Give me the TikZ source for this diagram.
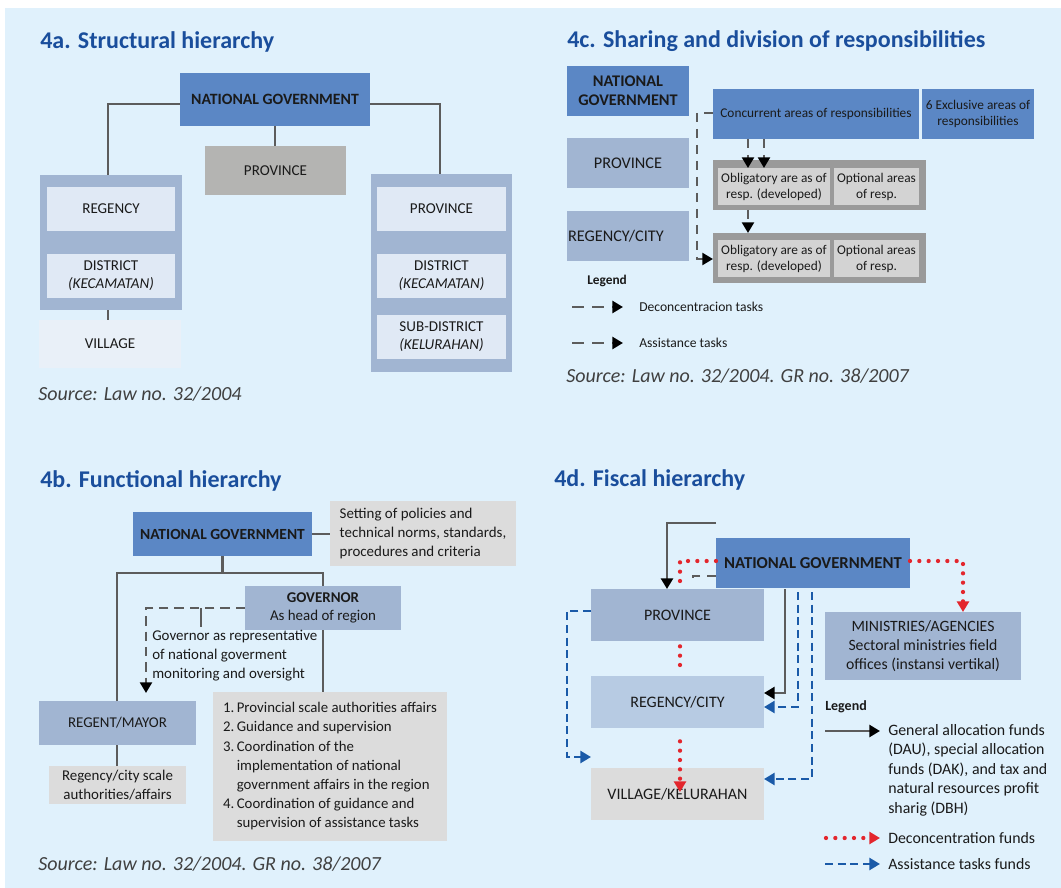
\documentclass[tikz,border=0pt]{standalone}
\usepackage{fontspec}
\setmainfont{Carlito}
\usetikzlibrary{arrows.meta}
\definecolor{bgc}{HTML}{E0F1FC}
\definecolor{tblue}{HTML}{1A4E9C}
\definecolor{dbl}{HTML}{5B87C5}
\definecolor{mbl}{HTML}{A1B5D2}
\definecolor{lblu}{HTML}{E0E9F5}
\definecolor{rbl}{HTML}{B7CBE3}
\definecolor{gprov}{HTML}{B4B4B2}
\definecolor{gdark}{HTML}{9A9A9A}
\definecolor{gmid}{HTML}{D3D3D3}
\definecolor{glt}{HTML}{DCDCDC}
\definecolor{lng}{HTML}{5C5C5C}
\definecolor{bdsh}{HTML}{1A5AA8}
\definecolor{rdt}{HTML}{E3262D}
\definecolor{txt}{HTML}{1A1A1A}
\newcommand\fsz[2]{\fontsize{#1}{#2}\selectfont}
\begin{document}
\begin{tikzpicture}[x=0.75pt,y=-0.75pt,
 box/.style={draw=none,inner sep=1pt,outer sep=0pt,align=center,text=txt},
 R/.style args={#1/#2/#3/#4}{minimum width={(#3-#1)*0.75pt},minimum height={(#4-#2)*0.75pt},at={({(#1+#3)/2},{(#2+#4)/2})}},
 ttl/.style={anchor=west,inner sep=0pt,text=tblue,font=\bfseries\fsz{18}{21}},
 src/.style={anchor=west,inner sep=0pt,text=black!75,font=\itshape\fsz{15}{18}},
 txtl/.style={anchor=west,inner sep=0pt,text=txt,align=left},
 ln/.style={draw=lng,line width=1.9pt},
 dsh/.style={draw=lng,line width=1.7pt,dash pattern=on 7pt off 5pt},
 bdash/.style={draw=bdsh,line width=2pt,dash pattern=on 6pt off 3.5pt},
 rdot/.style={draw=rdt,line width=3.2pt,line cap=round,dash pattern=on 0pt off 7pt},
 blk/.style={-{Triangle[length=8pt,width=9pt,color=black]}},
 rtip/.style={-{Triangle[length=8pt,width=9pt,color=rdt]}},
 btip/.style={-{Triangle[length=8pt,width=9pt,color=bdsh]}},
]
\useasboundingbox (0,0) rectangle (1061,888);
\fill[bgc] (5,8) rectangle (1061,888);

% ---------------- 4a ----------------
\node[ttl] (at) at (40,42) {4a. Structural hierarchy};
\begin{scope}[every node/.append style={font=\fsz{11.3}{13.5}}]
\node[box,R=180/73/370/126,fill=dbl,font=\bfseries\fsz{11.8}{14}] (ang) {NATIONAL GOVERNMENT};
\node[box,R=205/146/346/195,fill=gprov] (aprov) {PROVINCE};
\node[box,R=40/175/182/310,fill=mbl] (alg) {};
\node[box,R=47/187/175/231,fill=lblu] (areg) {REGENCY};
\node[box,R=47/254/175/298,fill=lblu] (adist) {DISTRICT\\\textit{(KECAMATAN)}};
\node[box,R=39/320/181/368,fill=lblu!70!white] (avil) {VILLAGE};
\node[box,R=371/174/512/372,fill=mbl] (arg) {};
\node[box,R=377/187/506/231,fill=lblu] (aprov2) {PROVINCE};
\node[box,R=377/254/506/298,fill=lblu] (adist2) {DISTRICT\\\textit{(KECAMATAN)}};
\node[box,R=377/315/506/359,fill=lblu] (asub) {SUB-DISTRICT\\\textit{(KELURAHAN)}};
\end{scope}
\draw[ln] (ang.west |- 0,104) -| (alg.north -| 108,0);
\draw[ln] (ang.east |- 0,104) -| (arg.north -| 440,0);
\draw[ln] (ang.south) -- (aprov.north -| ang.south);
\draw[ln] (alg.south -| 108,0) -- (avil.north -| 108,0);
\node[src] (asrc) at (38,394) {Source: Law no. 32/2004};

% ---------------- 4c ----------------
\node[ttl] (ct) at (567,41) {4c. Sharing and division of responsibilities};
\node[box,R=567/66/689/116,fill=dbl,font=\bfseries\fsz{12.2}{14.3}] (cng) {NATIONAL\\GOVERNMENT};
\node[box,R=567/138/689/188,fill=mbl,font=\fsz{12.2}{14}] (cprov) {PROVINCE};
\node[box,R=567/211/689/261,fill=mbl,font=\fsz{12.2}{14},text width=90pt,align=left] (creg) {REGENCY/CITY};
\begin{scope}[every node/.append style={font=\fsz{10}{12}}]
\node[box,R=713/89/919/139,fill=dbl] (cconc) {Concurrent areas of responsibilities};
\node[box,R=922/89/1034/139,fill=dbl] (cexcl) {6 Exclusive areas of\\responsibilities};
\node[box,R=713/160/926/210,fill=gdark] (cob1) {};
\node[box,R=718/168/830/205,fill=gmid] (cobl1) {Obligatory are as of\\resp. (developed)};
\node[box,R=834/168/919/205,fill=gmid] (copt1) {Optional areas\\of resp.};
\node[box,R=713/233/926/283,fill=gdark] (cob2) {};
\node[box,R=718/240/830/277,fill=gmid] (cobl2) {Obligatory are as of\\resp. (developed)};
\node[box,R=834/240/919/277,fill=gmid] (copt2) {Optional areas\\of resp.};
\end{scope}
\draw[dsh,blk] (cconc.south -| 748,0) -- (cobl1.north -| 748,0);
\draw[dsh,blk] (cconc.south -| 764,0) -- (cobl1.north -| 764,0);
\draw[dsh,blk] (cob1.south -| 748,0) -- (cob2.north -| 748,0);
\draw[dsh,blk] (cconc.west |- 0,113) -- (697,113) -- (697,259) -- (cob2.west |- 0,259);
\node[txtl,font=\bfseries\fsz{10}{12}] (cleg) at (587,281) {Legend};
\coordinate (cl1a) at (572,307); \coordinate (cl1b) at (623,307);
\coordinate (cl2a) at (572,343); \coordinate (cl2b) at (623,343);
\draw[ln,blk,dash pattern=on 9pt off 6pt] (cl1a) -- (cl1b);
\draw[ln,blk,dash pattern=on 9pt off 6pt] (cl2a) -- (cl2b);
\node[txtl,font=\fsz{10.2}{12}] (cl1t) at (639,307) {Deconcentracion tasks};
\node[txtl,font=\fsz{10.2}{12}] (cl2t) at (639,343) {Assistance tasks};
\node[src] (csrc) at (566,376) {Source: Law no. 32/2004. GR no. 38/2007};

% ---------------- 4b ----------------
\node[ttl] (bt) at (40,481) {4b. Functional hierarchy};
\node[box,R=133/512/312/556,fill=dbl,font=\bfseries\fsz{11.6}{14}] (bng) {NATIONAL GOVERNMENT};
\node[box,R=330/501/516/566,fill=glt,font=\fsz{11.2}{14.3}] (bset) {\begin{tabular}{@{}l@{}}Setting of policies and\\technical norms, standards,\\procedures and criteria\end{tabular}};
\node[box,R=245/586/401/630,fill=mbl,font=\fsz{11.2}{14}] (bgov) {\textbf{GOVERNOR}\\As head of region};
\node[box,R=39/701/196/745,fill=mbl,font=\fsz{11.2}{14}] (breg) {REGENT/MAYOR};
\node[box,R=49/766/186/804,fill=glt,font=\fsz{11.2}{14}] (bcity) {Regency/city scale\\authorities/affairs};
\node[box,R=213/692/447/841,fill=glt,font=\fsz{11.1}{14.4}] (bnum) {\begin{tabular}{@{}l@{}}1.\,Provincial scale authorities affairs\\
2.\,Guidance and supervision\\
3.\,Coordination of the\\
\phantom{3.\,}implementation of national\\
\phantom{3.\,}government affairs in the region\\
4.\,Coordination of guidance and\\
\phantom{4.\,}supervision of assistance tasks\end{tabular}};
\draw[ln] (bng.east) -- (bset.west |- bng.east);
\draw[ln] (bng.south) -- (bng.south |- 0,573);
\draw[ln] (breg.north -| 117,0) -- (117,573) -- (323,573) -- (bgov.north -| 323,0);
\draw[ln] (bgov.south -| 323,0) -- (bnum.north -| 323,0);
\coordinate (bdtip) at (146,693);
\draw[dsh,blk,dash pattern=on 7pt off 4.5pt] (bgov.west |- 0,608) -- (146,608) -- (bdtip);
\coordinate (bbr) at (201,627);
\draw[ln] (201,608) -- (bbr);
\node[txtl,font=\fsz{11.2}{14.3}] (bgtx) at (152,656) {Governor as representative\\ of national goverment\\ monitoring and oversight};
\draw[ln] (breg.south -| 117,0) -- (bcity.north -| 117,0);
\node[src] (bsrc) at (38,864) {Source: Law no. 32/2004. GR no. 38/2007};

% ---------------- 4d ----------------
\node[ttl] (dt) at (554,480) {4d. Fiscal hierarchy};
\node[box,R=716/538/910/588,fill=dbl,font=\bfseries\fsz{12.5}{15}] (dng) {NATIONAL GOVERNMENT};
\node[box,R=591/589/764/641,fill=mbl,font=\fsz{12}{14}] (dprov) {PROVINCE};
\node[box,R=591/676/764/728,fill=rbl,font=\fsz{12}{14}] (dreg) {REGENCY/CITY};
\node[box,R=591/768/764/820,fill=glt,font=\fsz{12}{14}] (dvil) {VILLAGE/KELURAHAN};
\node[box,R=825/612/1021/680,fill=mbl,font=\fsz{11.8}{14.3}] (dmin) {MINISTRIES/AGENCIES\\Sectoral ministries field\\offices (instansi vertikal)};
\coordinate (dsrc1) at (716,523);
\draw[ln,blk] (dsrc1) -- (667,523) -- (dprov.north -| 667,0);
\draw[rdot] (dng.west |- 0,561) -- (680,561) -- (dprov.north -| 680,0);
\coordinate (dgend) at (693,584);
\draw[dsh] (dng.west |- 0,576) -- (693,576) -- (dgend);
\draw[rdot,rtip] (dng.east |- 0,561) -- (963,561) -- (dmin.north -| 963,0);
\draw[rdot,shorten <=4pt,shorten >=3pt] (dprov.south -| 680,0) -- (dreg.north -| 680,0);
\coordinate (dvtip) at (680,792);
\draw[rdot,rtip,shorten <=10pt] (dreg.south -| 680,0) -- (dvtip);
\draw[ln,blk,shorten <=1pt] (dng.south -| 785,0) -- (785,693) -- (dreg.east |- 0,693);
\draw[bdash,btip,shorten <=3pt] (dng.south -| 798,0) -- (798,707) -- (dreg.east |- 0,707);
\draw[bdash,btip,shorten <=3pt] (dng.south -| 812,0) -- (812,779) -- (dvil.east |- 0,779);
\coordinate (dvtip2) at (591,757);
\draw[bdash,btip] (dprov.west |- 0,611) -- (567,611) -- (567,757) -- (dvtip2);
\node[txtl,font=\bfseries\fsz{10.5}{12}] (dleg) at (825,707) {Legend};
\coordinate (dl1a) at (825,731); \coordinate (dl1b) at (880,731);
\coordinate (dl2a) at (826,838); \coordinate (dl2b) at (880,838);
\coordinate (dl3a) at (825,864); \coordinate (dl3b) at (880,864);
\draw[ln,blk] (dl1a) -- (dl1b);
\draw[rdot,rtip] (dl2a) -- (dl2b);
\draw[bdash,btip] (dl3a) -- (dl3b);
\node[txtl,font=\fsz{11.9}{14.6}] (dl1t) at (888,770) {General allocation funds\\ (DAU), special allocation\\ funds (DAK), and tax and\\ natural resources profit\\ sharig (DBH)};
\node[txtl,font=\fsz{11.9}{14}] (dl2t) at (888,838) {Deconcentration funds};
\node[txtl,font=\fsz{11.9}{14}] (dl3t) at (888,864) {Assistance tasks funds};
\end{tikzpicture}
\end{document}
